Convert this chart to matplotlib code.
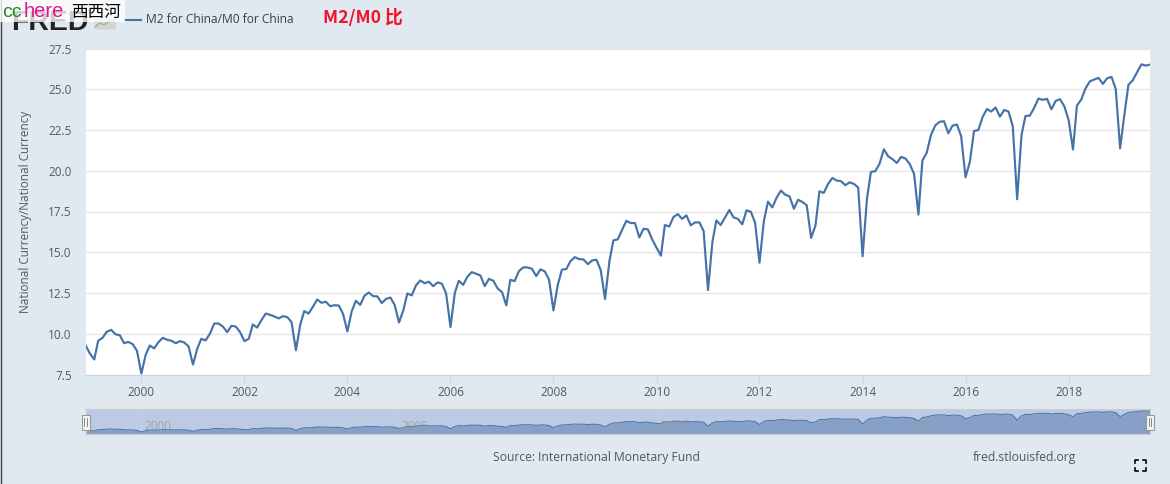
import matplotlib
matplotlib.use("Agg")
import matplotlib.pyplot as plt
import matplotlib.dates as mdates
from matplotlib.patches import Rectangle, FancyBboxPatch
import pandas as pd

# M2/M0 ratio, monthly from Dec 1998
values_1998 = [9.30]
values_1999 = [8.79, 8.42, 9.57, 9.75, 10.12, 10.24, 9.97, 9.91, 9.42, 9.50, 9.36, 8.95]
values_2000 = [7.56, 8.71, 9.28, 9.10, 9.48, 9.75, 9.63, 9.57, 9.42, 9.55, 9.46, 9.22]
values_2001 = [8.11, 9.10, 9.69, 9.59, 10.00, 10.63, 10.63, 10.44, 10.10, 10.49, 10.44, 10.10]
values_2002 = [9.55, 9.69, 10.57, 10.38, 10.83, 11.24, 11.16, 11.06, 10.94, 11.08, 11.02, 10.71]
values_2003 = [8.99, 10.57, 11.39, 11.24, 11.65, 12.10, 11.90, 11.96, 11.69, 11.75, 11.73, 11.22]
values_2004 = [10.14, 11.39, 12.02, 11.77, 12.33, 12.53, 12.31, 12.29, 11.88, 12.14, 12.22, 11.77]
values_2005 = [10.69, 11.45, 12.47, 12.35, 12.96, 13.27, 13.10, 13.19, 12.92, 13.15, 13.07, 12.47]
values_2006 = [10.41, 12.52, 13.25, 13.00, 13.50, 13.78, 13.68, 13.58, 12.92, 13.37, 13.25, 12.78]
values_2007 = [12.56, 11.74, 13.31, 13.23, 13.84, 14.07, 14.07, 13.99, 13.54, 13.95, 13.82, 13.31]
values_2008 = [11.43, 13.00, 13.93, 13.97, 14.46, 14.70, 14.58, 14.56, 14.27, 14.50, 14.54, 13.91]
values_2009 = [12.13, 14.46, 15.73, 15.79, 16.36, 16.93, 16.79, 16.79, 15.91, 16.44, 16.40, 15.79]
values_2010 = [15.28, 14.79, 16.67, 16.58, 17.16, 17.34, 17.05, 17.26, 16.65, 16.83, 16.83, 16.30]
values_2011 = [12.68, 15.62, 16.95, 16.67, 17.12, 17.59, 17.14, 17.05, 16.71, 17.57, 17.48, 16.81]
values_2012 = [14.36, 16.91, 18.10, 17.75, 18.34, 18.79, 18.53, 18.43, 17.67, 18.22, 18.08, 17.88]
values_2013 = [15.88, 16.64, 18.74, 18.64, 19.19, 19.56, 19.40, 19.36, 19.11, 19.29, 19.19, 18.97]
values_2014 = [14.75, 18.27, 19.93, 19.97, 20.42, 21.32, 20.89, 20.71, 20.48, 20.85, 20.75, 20.42]
values_2015 = [19.81, 17.31, 20.62, 21.11, 22.20, 22.79, 23.00, 23.04, 22.30, 22.77, 22.83, 22.12]
values_2016 = [19.60, 20.56, 22.44, 22.50, 23.30, 23.79, 23.63, 23.88, 23.32, 23.73, 23.63, 22.73]
values_2017 = [18.25, 22.20, 23.36, 23.38, 23.85, 24.43, 24.35, 24.41, 23.77, 24.28, 24.39, 23.96]
values_2018 = [23.12, 21.30, 24.00, 24.37, 25.06, 25.49, 25.59, 25.70, 25.33, 25.67, 25.76, 25.02]
values_2019 = [21.38, 23.49, 25.27, 25.55, 26.04, 26.53, 26.45, 26.51]

ratio = (values_1998 + values_1999 + values_2000 + values_2001 + values_2002 + values_2003
         + values_2004 + values_2005 + values_2006 + values_2007 + values_2008 + values_2009
         + values_2010 + values_2011 + values_2012 + values_2013 + values_2014 + values_2015
         + values_2016 + values_2017 + values_2018 + values_2019)
dates = pd.date_range("1998-12-01", periods=len(ratio), freq="MS")

y_ticks = [7.5, 10, 12.5, 15, 17.5, 20, 22.5, 25, 27.5]
x_tick_years = [2000, 2002, 2004, 2006, 2008, 2010, 2012, 2014, 2016, 2018]
nav_tick_years = [2000, 2005, 2010, 2015]

W, H = 1170, 484
BG = "#e1e9f0"
LINE = "#4572a7"
TXT = "#4d5a6b"
FONT = ["Open Sans", "DejaVu Sans"]

plt.rcParams["font.family"] = FONT


def fx(x):
    return x / W


def fy(y):
    return 1 - y / H


def axes_px(left, top, right, bottom):
    return [fx(left), fy(bottom), (right - left) / W, (bottom - top) / H]


fig = plt.figure(figsize=(W / 100, H / 100), dpi=100, facecolor=BG)

# main chart
ax = fig.add_axes(axes_px(85.5, 48.5, 1150, 374.5))
ax.set_facecolor("white")
ax.plot(dates, ratio, color=LINE, lw=1.55, solid_joinstyle="round", zorder=3)
ax.set_xlim(dates[0], dates[-1])
ax.set_ylim(7.5, 27.5)
ax.set_yticks(y_ticks)
ax.set_yticklabels(["%.1f" % v for v in y_ticks])
ax.set_xticks([pd.Timestamp(year=y, month=1, day=1) for y in x_tick_years])
ax.xaxis.set_major_formatter(mdates.DateFormatter("%Y"))
ax.grid(axis="y", color="#e6e6e6", lw=1)
ax.set_axisbelow(True)
for s in ["top", "left", "right"]:
    ax.spines[s].set_visible(False)
ax.spines["bottom"].set_color("#ccd6eb")
ax.tick_params(axis="y", length=0, pad=10, labelsize=8.5, labelcolor=TXT)
ax.tick_params(axis="x", length=6, width=1, color="#ccd6eb", pad=2, labelsize=8.5, labelcolor=TXT)

# navigator
nav = fig.add_axes(axes_px(85.5, 409, 1150, 434))
nav.set_facecolor("#bccae3")
nav.fill_between(dates, ratio, 5.7, color="#86a0c8", lw=0)
nav.plot(dates, ratio, color=LINE, lw=0.7)
nav.set_xlim(dates[0], dates[-1])
nav.set_ylim(5.7, 28.3)
nav.set_xticks([])
nav.set_yticks([])
for s in nav.spines.values():
    s.set_color("#cccccc")
    s.set_linewidth(0.8)
for y in nav_tick_years:
    d = pd.Timestamp(year=y, month=1, day=1)
    nav.axvline(d, color="#c3cfe2", lw=0.7, zorder=0.5)
    nav.annotate(str(y), (d, 0), xycoords=("data", "axes fraction"), xytext=(2, 3),
                 textcoords="offset points", color="#999999", fontsize=8.4, alpha=0.8)

# navigator handles
for hx in [85.5, 1150]:
    fig.add_artist(Rectangle((fx(hx - 4), fy(430)), 8 / W, 15 / H, transform=fig.transFigure,
                             facecolor="#f5f5f5", edgecolor="#999999", lw=0.8, zorder=5))
    for dx in [-1.2, 1.2]:
        fig.add_artist(plt.Line2D([fx(hx + dx)] * 2, [fy(426), fy(418)], color="#888888",
                                  lw=0.7, zorder=6))

# left edge line
fig.add_artist(plt.Line2D([fx(1)] * 2, [0, 1], color="#444444", lw=1))

# FRED logo under the watermark
fig.text(fx(11.5), fy(29.5), "FRED", family="Liberation Sans", weight="bold", fontsize=20.5,
         color="#222222", va="baseline", zorder=1)
fig.add_artist(FancyBboxPatch((fx(96), fy(29)), 19 / W, 9 / H, transform=fig.transFigure,
                              boxstyle="round,pad=0.001", facecolor="#d0d5d8", edgecolor="none", zorder=1))
fig.add_artist(plt.Line2D([fx(95), fx(100), fx(104), fx(108), fx(115)],
                          [fy(27), fy(23), fy(25), fy(22), fy(19)], color="#9cb88c", lw=1, zorder=2))

# watermark box
fig.add_artist(Rectangle((0, fy(22)), 125 / W, 22 / H, transform=fig.transFigure,
                         facecolor="white", edgecolor="none", alpha=0.78, zorder=3))
fig.text(fx(2.5), fy(17), "cc", color="#1f8a1f", fontsize=14, family="Liberation Sans", zorder=4)
fig.text(fx(24), fy(17), "here", color="#e0148c", fontsize=14.5, family="Liberation Sans", zorder=4)
fig.text(fx(71), fy(16.5), "西西河", color="black", fontsize=12, family="Noto Sans CJK SC", zorder=4)

# legend
fig.add_artist(plt.Line2D([fx(125), fx(141)], [fy(19.5)] * 2, color=LINE, lw=1.5))
fig.text(fx(145.5), fy(19.5), "M2 for China/M0 for China", color="#333f4f", fontsize=8.65, va="center")
fig.text(fx(323), fy(18), "M2/M0 比", color="#f0142a", fontsize=12.8, weight="bold", va="center",
         family=["Noto Sans CJK SC", "DejaVu Sans"])

# axis title and credits
fig.text(fx(26), fy(212), "National Currency/National Currency", rotation=90, color=TXT,
         fontsize=8.5, va="center", ha="center")
fig.text(fx(596), fy(457), "Source: International Monetary Fund", color="#555555", fontsize=8.7,
         va="center", ha="center")
fig.text(fx(1024), fy(457), "fred.stlouisfed.org", color="#555555", fontsize=8.7, va="center", ha="center")

# fullscreen icon
for cx, cy, sx, sy in [(1135, 460, 1, 1), (1146, 460, -1, 1), (1135, 471, 1, -1), (1146, 471, -1, -1)]:
    fig.add_artist(plt.Line2D([fx(cx), fx(cx), fx(cx + 3 * sx)],
                              [fy(cy + 3 * sy), fy(cy), fy(cy)], color="black", lw=1.2))

fig.savefig("out.png", dpi=100, facecolor=BG)
